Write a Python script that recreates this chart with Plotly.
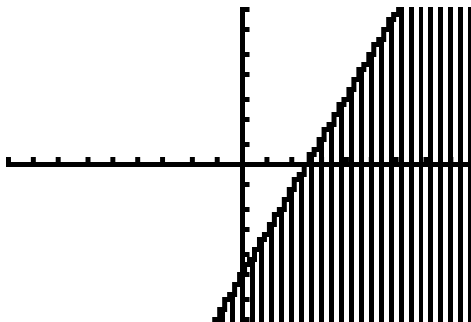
import numpy as np
import plotly.graph_objects as go

# Graph window (calculator style) and the boundary line y = slope*x + intercept
x_min, x_max = -9.0, 9.0
y_min, y_max = -7.0, 7.0
n_cols, n_rows = 95, 63
slope = 2.0
intercept = -5.0

# Axis tick values
x_ticks = [-9, -8, -7, -6, -5, -4, -3, -2, -1, 1, 2, 3, 4, 5, 6, 7, 8, 9]
y_ticks = [-7, -6, -5, -4, -3, -2, -1, 1, 2, 3, 4, 5, 6, 7]

dx = (x_max - x_min) / (n_cols - 1)
dy = (y_max - y_min) / (n_rows - 1)
axis_col = int(round((0 - x_min) / dx))


def snap_y(y):
    row = np.round((y_max - y) / dy)
    return y_max - row * dy


def snap_x(x):
    col = np.round((x - x_min) / dx)
    return x_min + col * dx


cols = np.arange(n_cols)
col_x = x_min + cols * dx
col_y = snap_y(slope * col_x + intercept)

# Pixel-stepped boundary line: one flat step per screen column
line_x, line_y = [], []
for xc, yc in zip(col_x, col_y):
    line_x += [xc - dx / 2, xc + dx / 2]
    line_y += [yc, yc]

# Shading: every other column, from the bottom up to the line
shade = (cols - axis_col) % 2 == 0
shade_x = col_x[shade]
shade_top = col_y[shade]
shade_base = y_min - 2.0

fig = go.Figure()
fig.add_trace(go.Bar(
    x=shade_x,
    y=shade_top - shade_base,
    base=shade_base,
    width=dx,
    marker=dict(color="black", line=dict(width=0)),
    hoverinfo="skip",
))
fig.add_trace(go.Scatter(
    x=line_x, y=line_y, mode="lines",
    line=dict(color="black", width=5),
    hoverinfo="skip",
))

shapes = []
for t in x_ticks:
    xt = snap_x(t)
    shapes.append(dict(type="rect", xref="x", yref="y",
                       x0=xt - dx / 2, x1=xt + dx / 2,
                       y0=dy / 2, y1=1.5 * dy,
                       fillcolor="black", line=dict(width=0), layer="above"))
for t in y_ticks:
    yt = snap_y(t)
    shapes.append(dict(type="rect", xref="x", yref="y",
                       x0=dx / 2, x1=1.5 * dx,
                       y0=yt - dy / 2, y1=yt + dy / 2,
                       fillcolor="black", line=dict(width=0), layer="above"))

W, H = 471, 322
ml, mt = 6, 7
px_per_col = 4.97
x_lo = x_min - dx / 2
x_hi = x_lo + (W - ml) / px_per_col * dx

fig.update_layout(
    width=W, height=H,
    margin=dict(l=ml, r=0, t=mt, b=0, pad=0),
    paper_bgcolor="white", plot_bgcolor="white",
    showlegend=False,
    bargap=0,
    shapes=shapes,
    xaxis=dict(range=[x_lo, x_hi], showgrid=False, showticklabels=False,
               ticks="", zeroline=True, zerolinecolor="black",
               zerolinewidth=5, showline=False, fixedrange=True),
    yaxis=dict(range=[y_min - dy / 2, y_max + dy / 2], showgrid=False,
               showticklabels=False, ticks="", zeroline=True,
               zerolinecolor="black", zerolinewidth=5, showline=False,
               fixedrange=True),
)

fig.write_html("out.html", config={"displayModeBar": False})
